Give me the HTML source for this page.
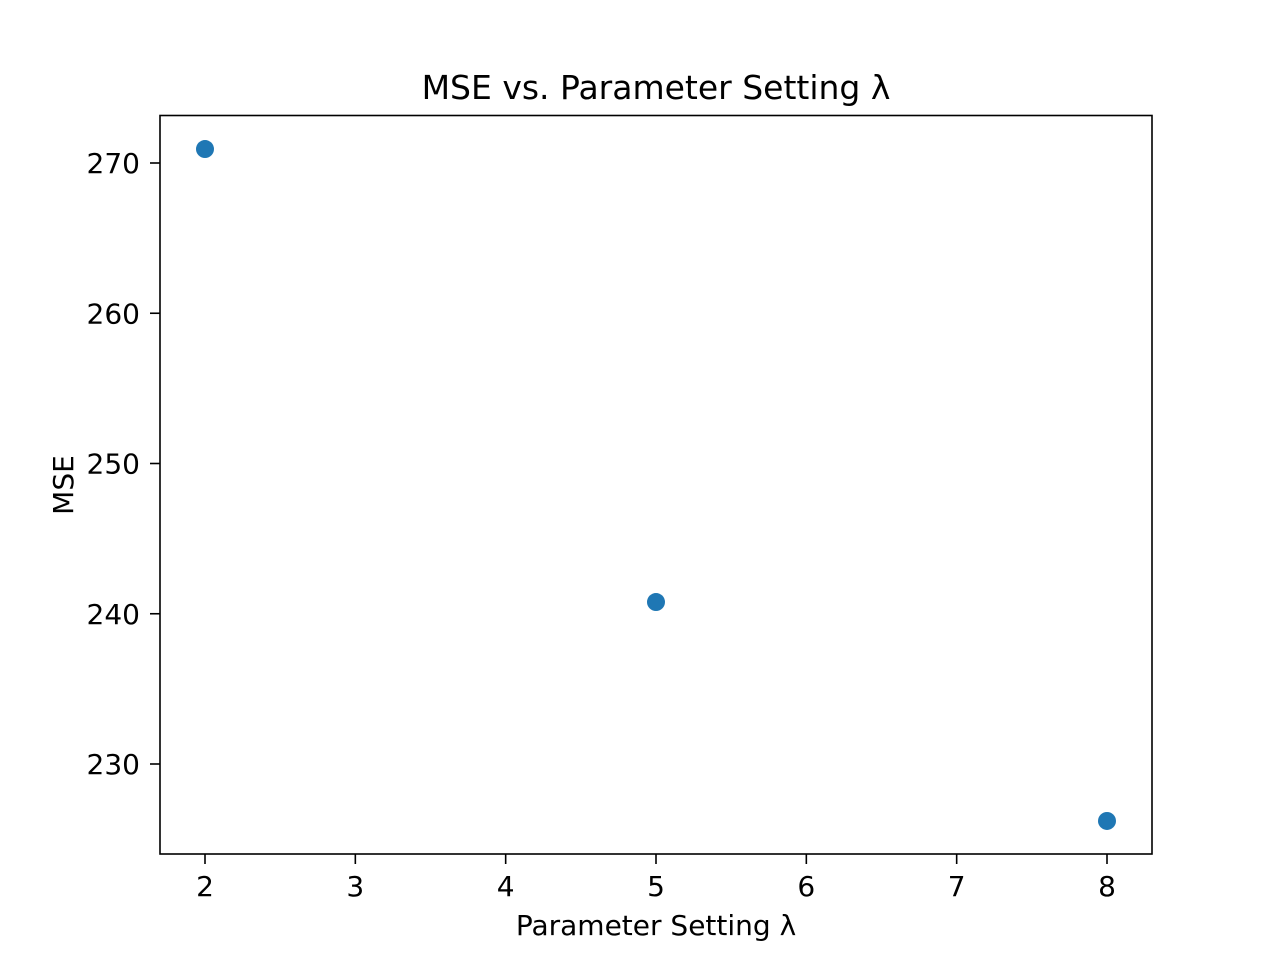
<!DOCTYPE html>
<html><head><meta charset="utf-8"><style>
html,body{margin:0;padding:0;background:#fff;}
svg text{font-family:"DejaVu Sans","Liberation Sans",sans-serif;fill:#000;}
</style></head><body>
<svg id="chart" width="1280" height="960" viewBox="0 0 1280 960" xmlns="http://www.w3.org/2000/svg">
<rect x="0" y="0" width="1280" height="960" fill="#fff"/>
<text x="656" y="99" font-size="33" text-anchor="middle">MSE vs. Parameter Setting λ</text>
<text x="656" y="935" font-size="28" text-anchor="middle">Parameter Setting λ</text>
<text transform="translate(73,485) rotate(-90)" font-size="28" text-anchor="middle">MSE</text>
<g id="ticks"></g>
<g id="points"></g>
<rect x="160" y="115.5" width="992" height="738.5" fill="none" stroke="#000" stroke-width="1.6"/>
</svg>
<script>
const xValues = [2, 5, 8];
const yValues = [270.93, 240.78, 226.21];
const xTicks = [2, 3, 4, 5, 6, 7, 8];
const yTicks = [230, 240, 250, 260, 270];

const L = 160, R = 1152, T = 115, B = 854;
function xs(v){ return 205 + (v - 2) * (1107 - 205) / 6; }
function ys(v){ return 163 + (270 - v) * (764 - 163) / 40; }
const NS = "http://www.w3.org/2000/svg";
const tg = document.getElementById("ticks");
const pg = document.getElementById("points");

xTicks.forEach(t => {
  const x = xs(t);
  const l = document.createElementNS(NS, "line");
  
  
  l.setAttribute("x1", x); l.setAttribute("x2", x);
  l.setAttribute("y1", B); l.setAttribute("y2", B + 10);
  l.setAttribute("stroke", "#000"); l.setAttribute("stroke-width", "1.6");
  tg.appendChild(l);
  const tx = document.createElementNS(NS, "text");
  
  
  tx.setAttribute("x", x); tx.setAttribute("y", B + 42);
  tx.setAttribute("font-size", "28"); tx.setAttribute("text-anchor", "middle");
  tx.textContent = t;
  tg.appendChild(tx);
});

yTicks.forEach(t => {
  const y = ys(t);
  const l = document.createElementNS(NS, "line");
  
  
  l.setAttribute("x1", L - 10); l.setAttribute("x2", L);
  l.setAttribute("y1", y); l.setAttribute("y2", y);
  l.setAttribute("stroke", "#000"); l.setAttribute("stroke-width", "1.6");
  tg.appendChild(l);
  const tx = document.createElementNS(NS, "text");
  
  
  tx.setAttribute("x", L - 20); tx.setAttribute("y", y + 10);
  tx.setAttribute("font-size", "28"); tx.setAttribute("text-anchor", "end");
  tx.textContent = t;
  tg.appendChild(tx);
});

xValues.forEach((v, i) => {
  const c = document.createElementNS(NS, "circle");
  
  
  c.setAttribute("cx", xs(v)); c.setAttribute("cy", ys(yValues[i]));
  c.setAttribute("r", "9"); c.setAttribute("fill", "#1f77b4");
  pg.appendChild(c);
});
</script>
</body></html>
